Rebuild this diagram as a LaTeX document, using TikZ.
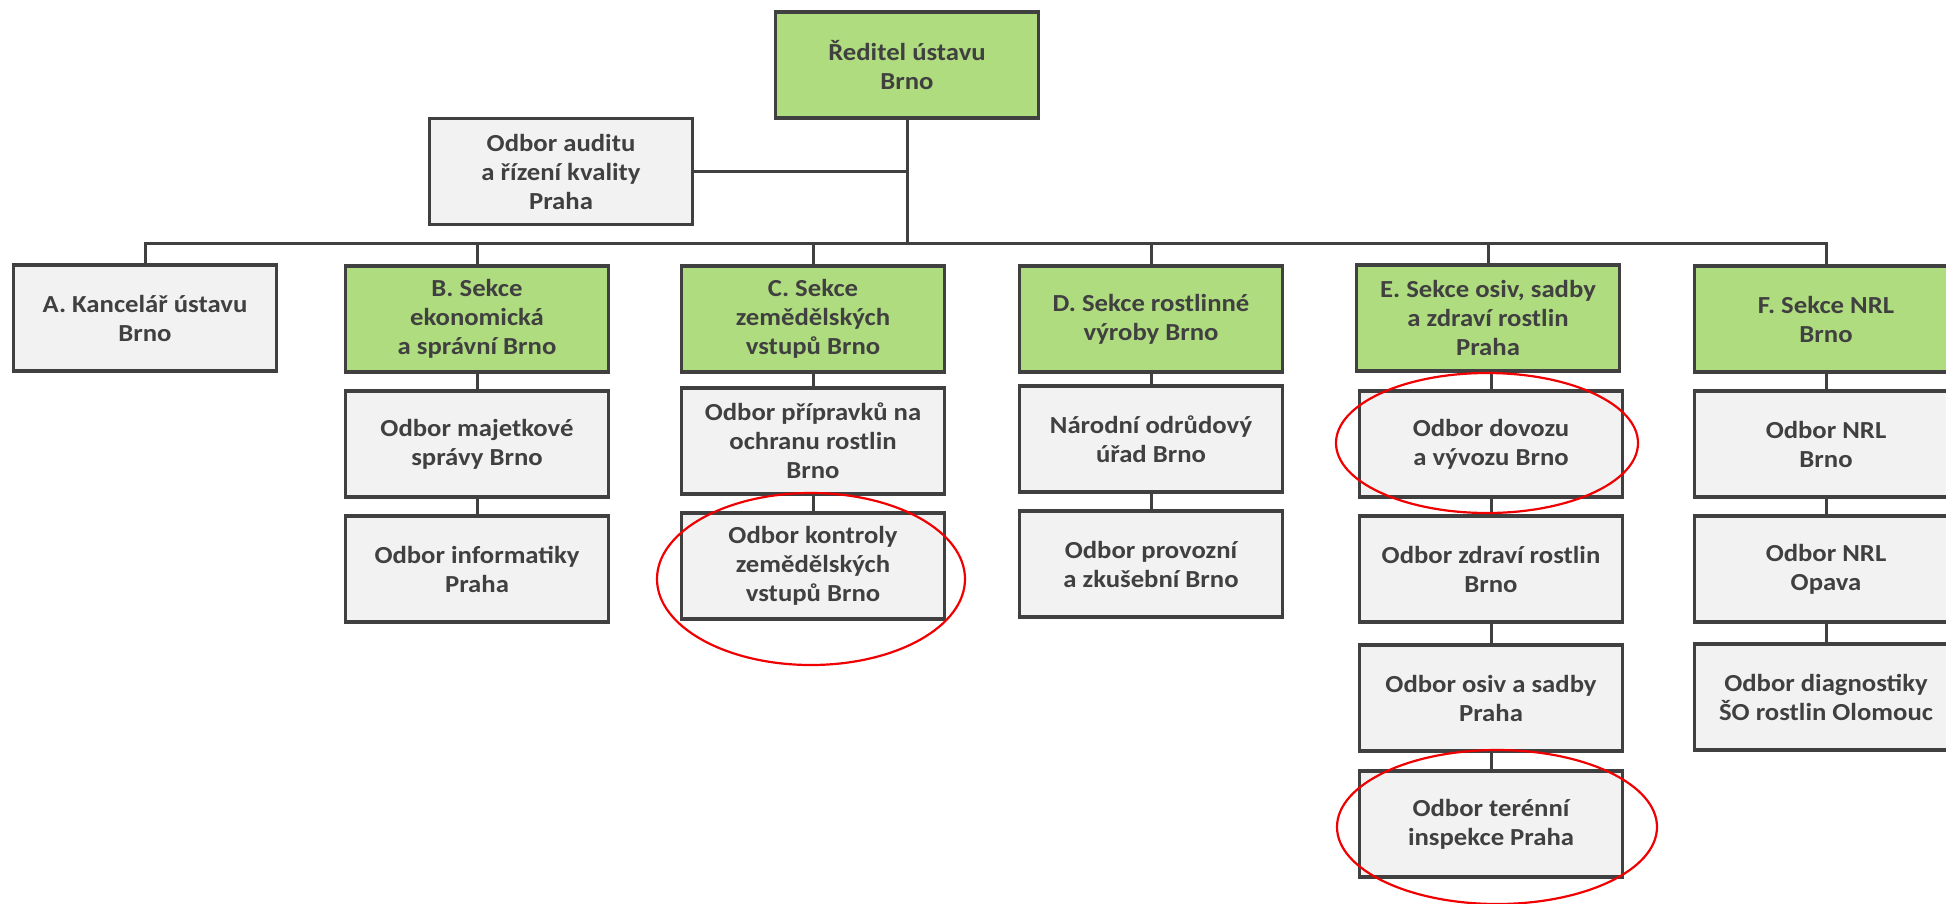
\documentclass[tikz,border=0pt]{standalone}
\usepackage{fontspec}
\setmainfont{Carlito}[FakeStretch=1.09]
\definecolor{txt}{HTML}{404040}
\definecolor{edge}{HTML}{404040}
\definecolor{grn}{HTML}{B0DC80}
\definecolor{gry}{HTML}{F2F2F2}
\definecolor{redc}{HTML}{F00000}
\tikzset{
  box/.style={draw=edge, line width=3.5pt, minimum width=263pt, minimum height=106pt,
    inner sep=0pt, align=center, text=txt,
    font=\fontsize{24.5}{29}\selectfont\bfseries},
  gbox/.style={box, fill=grn},
  wbox/.style={box, fill=gry},
  conn/.style={draw=edge, line width=3pt},
  mark ellipse/.style={draw=redc, line width=2.2pt}
}
\begin{document}
\begin{tikzpicture}[x=1pt,y=-1pt]
\useasboundingbox (0,0) rectangle (1946,903);
% top
\node[gbox] (top) at (907,65) {Ředitel ústavu\\Brno};
\node[wbox] (audit) at (561,171.5) {Odbor auditu\\a řízení kvality\\Praha};
% row 1
\node[wbox] (A) at (145,318) {A. Kancelář ústavu\\Brno};
\node[gbox] (B) at (477,319) {B. Sekce\\ekonomická\\a správní Brno};
\node[gbox] (C) at (813,319) {C. Sekce\\zemědělských\\vstupů Brno};
\node[gbox] (D) at (1151,319) {D. Sekce rostlinné\\výroby Brno};
\node[gbox] (E) at (1488,318) {E. Sekce osiv, sadby\\a zdraví rostlin\\Praha};
\node[gbox] (F) at (1826,319) {F. Sekce NRL\\Brno};
% row 2
\node[wbox] (B2) at (477,444) {Odbor majetkové\\správy Brno};
\node[wbox] (C2) at (813,441) {Odbor přípravků na\\ochranu rostlin\\Brno};
\node[wbox] (D2) at (1151,439) {Národní odrůdový\\úřad Brno};
\node[wbox] (E2) at (1491,444) {Odbor dovozu\\a vývozu Brno};
\node[wbox] (F2) at (1826,444) {Odbor NRL\\Brno};
% row 3
\node[wbox] (B3) at (477,569) {Odbor informatiky\\Praha};
\node[wbox] (C3) at (813,566) {Odbor kontroly\\zemědělských\\vstupů Brno};
\node[wbox] (D3) at (1151,564) {Odbor provozní\\a zkušební Brno};
\node[wbox] (E3) at (1491,569) {Odbor zdraví rostlin\\Brno};
\node[wbox] (F3) at (1826,569) {Odbor NRL\\Opava};
% row 4
\node[wbox] (E4) at (1491,698) {Odbor osiv a sadby\\Praha};
\node[wbox] (F4) at (1826,697) {Odbor diagnostiky\\ŠO rostlin Olomouc};
% row 5
\node[wbox] (E5) at (1491,824) {Odbor terénní\\inspekce Praha};
% connectors
\coordinate (bus) at (907,243);
\draw[conn] (top.south) -- (bus);
\draw[conn] (audit.east) -- (audit.east -| top.south);
\draw[conn] (A.north) -- (A.north |- bus) -- (F.north |- bus) -- (F.north);
\foreach \n in {B,C,D,E} { \draw[conn] (\n.north) -- (\n.north |- bus); }
\draw[conn] (B.south) -- (B2.north);
\draw[conn] (B2.south) -- (B3.north);
\draw[conn] (C.south) -- (C2.north);
\draw[conn] (C2.south) -- (C3.north);
\draw[conn] (D.south) -- (D2.north);
\draw[conn] (D2.south) -- (D3.north);
\draw[conn] (E2.north |- E.south) -- (E2.north);
\draw[conn] (E2.south) -- (E3.north);
\draw[conn] (E3.south) -- (E4.north);
\draw[conn] (E4.south) -- (E5.north);
\draw[conn] (F.south) -- (F2.north);
\draw[conn] (F2.south) -- (F3.north);
\draw[conn] (F3.south) -- (F4.north);
% red marks
\draw[mark ellipse] ([shift={(-2,13)}]C3.center) ellipse [x radius=154pt, y radius=86pt];
\draw[mark ellipse] ([shift={(-4,-1)}]E2.center) ellipse [x radius=151pt, y radius=70pt];
\draw[mark ellipse] ([shift={(6,3)}]E5.center) ellipse [x radius=160pt, y radius=77pt];
\end{tikzpicture}
\end{document}
